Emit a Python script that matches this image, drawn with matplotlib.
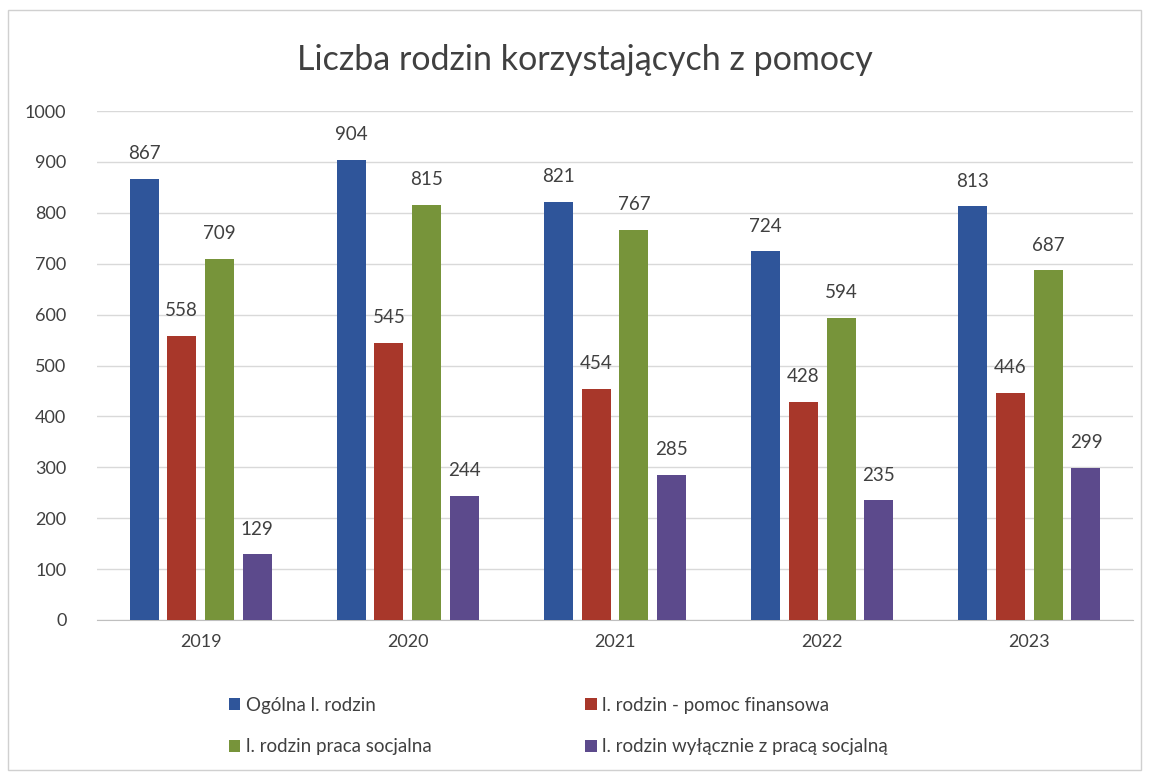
import matplotlib.pyplot as plt
import numpy as np
from matplotlib.patches import Rectangle

plt.rcParams['font.family'] = ['Lato', 'DejaVu Sans']

years = ['2019', '2020', '2021', '2022', '2023']
ogolna = [867, 904, 821, 724, 813]
finansowa = [558, 545, 454, 428, 446]
praca = [709, 815, 767, 594, 687]
wylacznie = [129, 244, 285, 235, 299]
labels = ['Ogólna l. rodzin', 'l. rodzin - pomoc finansowa',
          'l. rodzin praca socjalna', 'l. rodzin wyłącznie z pracą socjalną']
colors = ['#2F559A', '#A8372A', '#77943A', '#5C4A8C']

fig = plt.figure(figsize=(11.49, 7.75), dpi=100)
ax = fig.add_axes([97 / 1149, 1 - 620 / 775, (1133 - 97) / 1149, (620 - 111) / 775])

x = np.arange(len(years))
w = 0.14
step = 0.182
handles = []
for i, (vals, lab, col) in enumerate(zip([ogolna, finansowa, praca, wylacznie], labels, colors)):
    pos = x + (i - 1.5) * step
    bars = ax.bar(pos, vals, w, color=col, label=lab, zorder=3)
    handles.append(bars)
    for b, v in zip(bars, vals):
        ax.annotate(str(v), (b.get_x() + b.get_width() / 2, v), xytext=(0, 12),
                    textcoords='offset points', ha='center', va='bottom',
                    fontsize=13.5, color='#404040')

ax.set_xlim(-0.5, 4.5)
ax.set_ylim(0, 1000)
ax.set_yticks(range(0, 1001, 100))
ax.set_xticks(x)
ax.set_xticklabels(years)
ax.tick_params(length=0, labelsize=13, colors='#404040')
ax.tick_params(axis='y', pad=22)
ax.tick_params(axis='x', pad=10)
ax.grid(axis='y', color='#D9D9D9', linewidth=1, zorder=0)
for s in ['top', 'right', 'left']:
    ax.spines[s].set_visible(False)
ax.spines['bottom'].set_color('#BFBFBF')

fig.text(0.509, 1 - 60 / 775, 'Liczba rodzin korzystających z pomocy',
         ha='center', va='center', fontsize=24.5, color='#404040')

order = [0, 2, 1, 3]
fig.legend([handles[k] for k in order], [labels[k] for k in order],
           loc='center left', bbox_to_anchor=(212 / 1149, 1 - 726 / 775), ncol=2,
           frameon=False, fontsize=13.5, handlelength=0.6, handleheight=0.6,
           handletextpad=0.3, columnspacing=8.2, labelspacing=1.3,
           labelcolor='#404040')

fig.patches.append(Rectangle((8 / 1149, 5 / 775), 1133 / 1149, 760 / 775,
                             transform=fig.transFigure, fill=False,
                             edgecolor='#D0D0D0', linewidth=1))

fig.savefig('out.png', dpi=100)
